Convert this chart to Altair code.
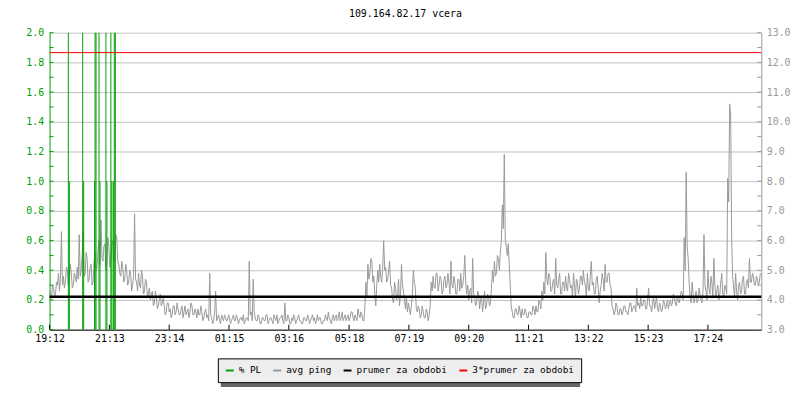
import altair as alt
import pandas as pd

FONT = "DejaVu Sans Mono"
title_text = "109.164.82.17 vcera"

tick_minutes = [0, 121, 242, 363, 484, 606, 727, 848, 969, 1090, 1211, 1332]
tick_labels = ["19:12", "21:13", "23:14", "01:15", "03:16", "05:18",
               "07:19", "09:20", "11:21", "13:22", "15:23", "17:24"]

left_label_values = [0.0, 0.2, 0.4, 0.6, 0.8, 1.0, 1.2, 1.4, 1.6, 1.8, 2.0]
left_tick_values = [0.0, 0.1, 0.2, 0.3, 0.4, 0.5, 0.6, 0.7, 0.8, 0.9, 1.0,
                    1.1, 1.2, 1.3, 1.4, 1.5, 1.6, 1.7, 1.8, 1.9, 2.0]
right_label_values = [3.0, 4.0, 5.0, 6.0, 7.0, 8.0, 9.0, 10.0, 11.0, 12.0, 13.0]
right_tick_values = [3.0, 3.5, 4.0, 4.5, 5.0, 5.5, 6.0, 6.5, 7.0, 7.5, 8.0, 8.5,
                     9.0, 9.5, 10.0, 10.5, 11.0, 11.5, 12.0, 12.5, 13.0]

series_names = ["% PL", "avg ping", "prumer za obdobi", "3*prumer za obdobi"]
series_colors = ["#00a000", "#999999", "#000000", "#ff0000"]

# avg ping (ms), one value every 2 minutes
ping_step_min = 2
ping_seg1 = [4.3, 4.0, 4.1, 4.5, 4.4, 4.1, 4.2, 4.6, 4.5, 4.9, 4.3, 4.7, 6.3, 4.5,
             4.8, 4.4, 4.6, 5.1, 5.0, 4.5, 4.7, 5.2, 4.9, 4.4, 4.5, 4.9, 4.8, 4.6,
             5.1, 4.7, 6.2, 4.8, 5.0, 5.5, 6.3, 4.8, 4.9, 5.6, 5.4, 4.6, 4.7, 5.1,
             5.2, 4.5, 4.6, 5.3, 5.6, 5.0, 5.1, 5.7, 6.0, 5.2, 6.7, 5.4, 5.3, 5.8,
             5.9, 5.0, 5.2, 6.1, 5.8, 5.1, 5.4, 5.9, 6.0, 5.3, 5.5, 6.2, 6.1, 5.3,
             5.2, 4.9, 4.8, 5.3, 5.1, 4.6, 4.7, 5.2, 5.0, 4.5, 4.6, 5.0, 4.9, 4.3,
             4.5, 4.8, 6.9, 4.7, 4.6, 4.3, 4.9, 4.5, 4.4, 5.0, 4.8, 4.2, 4.3, 4.7,
             4.6, 4.1, 4.2, 4.4, 4.0, 4.2, 4.3, 3.8, 3.9, 4.3, 4.1, 3.7, 3.8, 4.0,
             4.2, 3.8, 3.9, 4.1,
             3.8, 3.5, 3.6, 3.9, 3.9, 3.6, 3.7, 3.4, 3.5, 3.8, 3.8, 3.5, 3.6, 3.9,
             3.7, 3.5, 3.5, 3.7, 3.8, 3.4, 3.6, 3.8, 3.5, 3.6, 3.7, 3.4, 3.6, 3.9,
             3.8, 3.5, 3.5, 3.7, 3.6, 3.4, 3.7, 3.5, 3.5, 3.8, 3.6, 3.3, 3.4, 3.6,
             3.7, 3.4, 3.5, 3.3,
             4.9, 3.5, 3.4, 3.2, 3.3, 3.6, 4.3, 3.3, 3.4, 3.5, 3.3, 3.2, 3.5, 3.4,
             3.3, 3.5, 3.4, 3.3]
ping_seg2 = [3.3, 3.5, 3.4, 3.2, 3.3, 3.4, 3.5, 3.3, 3.3, 3.5, 3.4, 3.2, 3.3, 3.4,
             3.4, 3.3, 3.5, 3.2, 3.3, 3.4, 3.4, 3.3,
             5.3, 3.5, 3.6, 3.3, 4.7, 3.6, 3.4, 3.3,
             3.3, 3.5, 3.4, 3.2, 3.2, 3.4, 3.4, 3.3, 3.3, 3.5, 3.5, 3.2, 3.3, 3.4,
             3.4, 3.3, 3.2, 3.5, 3.4, 3.3, 3.5, 3.2, 3.3, 3.4, 3.4, 3.5, 3.3, 3.2,
             3.9, 3.3,
             3.3, 3.5, 3.4, 3.2, 3.2, 3.4, 3.3, 3.5, 3.4, 3.2, 3.3, 3.4, 3.5, 3.3,
             3.3, 3.2, 3.2, 3.4, 3.4, 3.3, 3.3, 3.5, 3.4, 3.2,
             3.3, 3.4, 3.5, 3.3, 3.4, 3.2, 3.3, 3.5, 3.3, 3.4, 3.4, 3.2, 3.2, 3.3,
             3.3, 3.5, 3.4, 3.3, 3.6, 3.4, 3.3, 3.2, 3.4, 3.5,
             3.3, 3.4, 3.5, 3.3, 3.4, 3.6, 3.3, 3.4, 3.6, 3.3, 3.4, 3.5, 3.3, 3.4,
             3.5, 3.3, 3.4, 3.6, 3.6, 3.4, 3.3, 3.5, 3.4, 3.3,
             3.7, 3.5, 3.4, 3.6, 3.5, 3.3, 3.3, 3.8,
             4.6, 4.1, 5.2, 4.7, 4.9, 5.4, 5.3, 4.6, 4.8, 4.2, 3.8, 4.5, 5.0, 4.6,
             5.2, 4.8, 4.6, 5.1, 6.0, 5.0, 5.1, 4.6,
             4.7, 5.0, 5.3, 4.5, 4.4, 4.0, 3.9, 4.6, 4.4, 4.0, 4.1, 4.7, 3.8, 4.2,
             5.2, 4.5, 4.3, 4.0, 3.7, 4.1]
ping_seg3 = [3.6, 3.9, 3.7, 3.5, 3.8, 4.2, 5.0, 4.6, 4.4, 3.7,
             3.6, 3.8, 3.7, 3.4, 3.5, 3.8, 3.6, 3.4, 3.4, 3.7, 3.6, 3.3, 3.5, 3.8,
             4.6, 4.3, 4.8, 4.4, 4.4, 4.9, 4.9, 4.3, 4.5, 4.8, 4.7, 4.2, 4.3, 4.7,
             4.8, 4.4, 4.5, 4.9, 4.6, 4.2, 5.3, 4.5, 4.4, 4.8,
             4.6, 4.2, 4.2, 4.7, 4.7, 4.3, 4.9, 4.4, 4.5, 4.8, 5.5, 4.6,
             4.2, 4.5, 4.0, 4.3, 4.4, 3.9, 5.4, 4.2, 4.1, 3.8, 3.9, 4.3, 4.2, 3.7,
             4.0, 4.1, 3.6, 3.9, 4.3, 3.7, 3.8, 4.2, 4.1, 3.8, 3.9, 4.4,
             5.0, 4.6, 5.3, 4.8, 4.9, 5.5, 5.4, 5.0, 5.6, 6.0, 7.2, 6.4, 8.9, 6.0,
             5.8, 5.5, 5.9, 5.2, 4.5, 3.8,
             3.6, 3.4, 3.4, 3.7, 3.7, 3.5, 3.5, 3.8, 3.6, 3.4, 3.7, 3.5, 3.5, 3.7,
             3.6, 3.4, 3.4, 3.6, 3.6, 3.5, 3.5, 3.8, 3.7, 3.5, 3.8, 3.6, 3.6, 4.0,
             3.9, 3.7,
             4.3, 4.0, 4.6, 4.2, 5.6, 4.7, 4.5, 4.9, 4.8, 4.3, 4.3, 4.6, 4.7, 4.2,
             5.4, 4.5, 4.4, 4.7, 4.9, 4.2, 4.2, 4.6,
             4.6, 4.3, 4.8, 4.4, 4.3, 4.9, 4.7, 4.4, 4.5, 4.1, 4.9, 4.5, 4.1, 4.7,
             4.6, 4.2, 4.4, 4.8, 4.8, 4.5, 5.0, 4.6]
ping_seg4 = [4.5, 4.1, 4.9, 4.4, 4.3, 4.8, 5.3, 4.5, 4.6, 4.2, 4.2, 4.7, 4.8, 4.4,
             3.9, 4.3, 4.5, 4.9, 4.7, 4.3, 5.2, 4.6, 4.6, 4.9, 4.9, 4.5, 4.4, 3.8,
             3.7, 3.5, 3.6, 3.9, 3.8, 3.5, 3.5, 3.7, 3.7, 3.5, 3.6, 3.8, 3.8, 3.6,
             3.6, 3.5, 3.7, 3.9, 3.9, 3.6, 3.7, 3.8, 3.8, 3.6, 4.4, 3.8,
             3.9, 3.7, 4.1, 3.8, 3.8, 4.0, 4.0, 3.7, 3.7, 4.0, 4.4, 3.8, 3.8, 3.6,
             3.9, 4.1, 3.7, 3.9, 4.1, 3.7, 3.6, 3.9, 3.8, 3.6, 3.7, 4.0,
             3.9, 3.7, 3.8, 4.0, 3.7, 3.9, 4.0, 3.8, 3.9, 4.2, 4.1, 3.9, 3.8, 4.1,
             4.0, 3.9,
             4.1, 4.3, 4.2, 4.0, 6.1, 5.0, 8.3, 5.8, 5.4, 4.6,
             4.1, 3.9, 4.6, 4.2, 3.9, 4.1, 4.3, 3.9, 4.0, 4.4, 4.2, 4.0, 3.9, 4.3,
             6.2, 4.5,
             4.3, 4.0, 5.0, 4.4, 4.2, 4.8, 4.6, 4.1, 5.4, 4.5, 4.1, 4.3, 4.5, 4.0,
             4.2, 4.6, 4.9, 4.2, 4.1, 4.5, 4.4, 4.2,
             8.1, 7.3, 10.6, 10.2, 6.1, 4.8,
             4.4, 4.1, 4.9, 4.3, 4.0, 4.5, 4.6, 4.2, 4.3, 4.7, 4.8, 4.2, 4.2, 4.6,
             4.7, 4.4, 5.4, 4.6, 4.6, 4.9, 4.8, 4.5, 4.5, 4.8, 4.7, 4.5, 4.6, 4.9]

# packet loss (%), clipped at the axis top
pl_minutes = [38, 40, 67, 69, 91, 92, 94, 100, 102, 114, 116, 124, 126, 129, 131, 133]
pl_values = [2.0, 1.0, 2.0, 1.0, 1.0, 2.0, 2.0, 2.0, 1.0, 2.0, 1.0, 2.0, 1.0, 1.0, 2.0, 2.0]

mean_ping = 4.11
mean3_ping = 3 * mean_ping

GREEN = series_colors[0]
GREY = "#999999"

ping = ping_seg1 + ping_seg2 + ping_seg3 + ping_seg4
ping_df = pd.DataFrame({"t": [i * ping_step_min for i in range(len(ping))], "ping": ping,
                        "series": series_names[1]})
pl_df = pd.DataFrame({"t": pl_minutes, "v": pl_values, "series": series_names[0]})
mean_df = pd.DataFrame({"m": [mean_ping], "series": [series_names[2]]})
mean3_df = pd.DataFrame({"m": [mean3_ping], "series": [series_names[3]]})

label_expr = ("[" + ",".join("'%s'" % s for s in tick_labels) + "][indexof(["
              + ",".join(str(v) for v in tick_minutes) + "], datum.value)]")

x_scale = alt.Scale(domain=[0, 1440], nice=False, zero=False)
x_axis = alt.Axis(values=tick_minutes, labelExpr=label_expr, ticks=False, grid=False,
                  domainColor="#000000", labelColor="#000000", title=None,
                  labelPadding=4, labelFlush=False, labelOverlap=False)

left_scale = alt.Scale(domain=[0, 2], nice=False, zero=False)
left_axis = alt.Axis(orient="left", values=left_label_values, format=".1f", grid=False,
                     ticks=False, domainColor=GREEN, labelColor=GREEN, title=None,
                     labelPadding=6)
right_scale = alt.Scale(domain=[3, 13], nice=False, zero=False)
right_axis = alt.Axis(orient="right", values=right_label_values, format=".1f", grid=True,
                      gridColor="#c0c0c0", gridOpacity=1, ticks=False, domainColor=GREY,
                      labelColor=GREY, title=None, labelPadding=5)

color_scale = alt.Scale(domain=series_names, range=series_colors)
legend = alt.Legend(orient="none", legendX=170, legendY=329, direction="horizontal",
                    columns=4, symbolType="stroke", symbolSize=64, symbolStrokeWidth=2,
                    labelFont=FONT, labelFontSize=9.5, labelColor="#000000",
                    fillColor="#eeeeee", strokeColor="#000000", padding=7,
                    columnPadding=8, labelOffset=4, title=None)

COLOR = alt.Color("series", type="nominal", scale=color_scale, legend=legend)


def X(field):
    return alt.X(field, type="quantitative", scale=x_scale, axis=x_axis)


ping_layer = alt.Chart(ping_df).mark_line(strokeWidth=1).encode(
    x=X("t"),
    y=alt.Y("ping", type="quantitative", scale=right_scale, axis=right_axis),
    color=COLOR,
)

pl_layer = alt.Chart(pl_df).mark_rule(strokeWidth=1).encode(
    x=X("t"),
    y=alt.Y("v", type="quantitative", scale=left_scale, axis=left_axis),
    y2=alt.datum(0),
    color=COLOR,
)
left_ticks = alt.Chart(pd.DataFrame({"v": left_tick_values})).mark_rule(
    color=GREEN, strokeWidth=1).encode(
    y=alt.Y("v", type="quantitative", scale=left_scale, axis=left_axis),
    x=alt.value(0), x2=alt.value(4),
)
pl_group = alt.layer(pl_layer, left_ticks)

mean_layer = alt.Chart(mean_df).mark_rule(strokeWidth=2.5).encode(
    y=alt.Y("m", type="quantitative", scale=right_scale, axis=None),
    color=COLOR,
)
mean3_layer = alt.Chart(mean3_df).mark_rule(strokeWidth=1).encode(
    y=alt.Y("m", type="quantitative", scale=right_scale, axis=None),
    color=COLOR,
)
right_ticks = alt.Chart(pd.DataFrame({"m": right_tick_values})).mark_rule(
    color=GREY, strokeWidth=1).encode(
    y=alt.Y("m", type="quantitative", scale=right_scale, axis=None),
    x=alt.value(715), x2=alt.value(719),
)
x_ticks = alt.Chart(pd.DataFrame({"t": tick_minutes})).mark_rule(
    color="#000000", strokeWidth=1).encode(
    x=X("t"), y=alt.value(295), y2=alt.value(300),
)
legend_shadow = alt.Chart(pd.DataFrame({"s": [0]})).mark_rect(
    color="#666666", clip=False).encode(
    x=alt.value(173), x2=alt.value(536), y=alt.value(332), y2=alt.value(358),
)
means_group = alt.layer(mean_layer, mean3_layer, right_ticks, x_ticks, legend_shadow)

chart = alt.layer(ping_layer, pl_group, means_group).resolve_scale(
    y="independent"
).properties(
    width=719, height=300,
    autosize=alt.AutoSizeParams(type="none"),
    padding={"left": 42, "top": 23, "right": 31, "bottom": 60},
    title=alt.Title(title_text, font=FONT, fontSize=10, fontWeight="normal",
                    color="#000000", offset=9),
).configure_axis(
    labelFont=FONT, labelFontSize=10,
).configure_view(strokeWidth=0)

chart.save("out.html", embed_options={"renderer": "svg", "actions": False})
